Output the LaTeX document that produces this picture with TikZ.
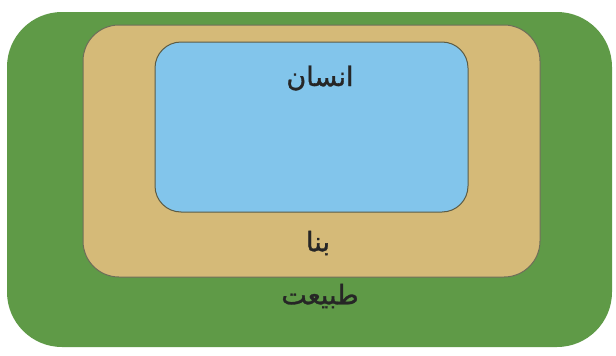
\documentclass[tikz,border=0pt]{standalone}
\usepackage{fontspec}
\newfontfamily\arabicfont[Script=Arabic,FakeBold=1.2]{DejaVu Sans}
\TeXXeTstate=1
\definecolor{natgreen}{HTML}{5F9A47}
\definecolor{buildtan}{HTML}{D5BA78}
\definecolor{humanblue}{HTML}{82C5EB}
\definecolor{edgedark}{HTML}{4A4A30}
\definecolor{txtdark}{HTML}{262626}
\begin{document}
\begin{tikzpicture}[x=1pt,y=-1pt,
  layerbox/.style={rounded corners=#1},
  lbl/.style={font=\arabicfont\fontsize{27}{30}\selectfont, text=txtdark, inner sep=0pt}]
\useasboundingbox (0,0) rectangle (616,356);
\fill[white] (0,0) rectangle (616,356);
\fill[natgreen, layerbox=55pt] (7,12) rectangle (612,347);
\filldraw[fill=buildtan, draw=edgedark!80, line width=1pt, layerbox=36pt] (83,25) rectangle (540,277);
\filldraw[fill=humanblue, draw=edgedark!90, line width=1pt, layerbox=26pt] (155,42) rectangle (468,212);
\node[lbl] (ensan) at (320,78) {\beginR انسان\endR};
\node[lbl] (bana) at (318,243) {\beginR بنا\endR};
\node[lbl] (tabiat) at (320,296) {\beginR طبیعت\endR};
\end{tikzpicture}
\end{document}
